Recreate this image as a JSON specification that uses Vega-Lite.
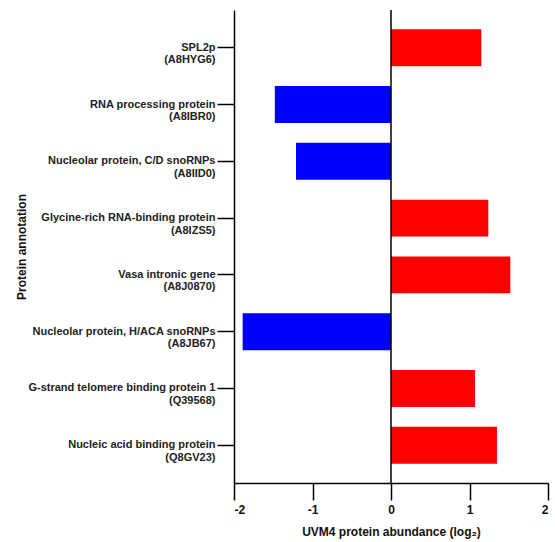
{
  "$schema": "https://vega.github.io/schema/vega-lite/v6.json",
  "autosize": {"type": "none"},
  "padding": {"left": 234, "top": 10, "right": 7, "bottom": 59},
  "width": 314,
  "height": 473,
  "background": "white",
  "config": {"view": {"stroke": null}, "font": "Liberation Sans"},
  "data": {"values": [
    {"protein": "SPL2p|(A8HYG6)", "value": 1.15, "dir": "up"},
    {"protein": "RNA processing protein|(A8IBR0)", "value": -1.48, "dir": "down"},
    {"protein": "Nucleolar protein, C/D snoRNPs|(A8IID0)", "value": -1.21, "dir": "down"},
    {"protein": "Glycine-rich RNA-binding protein|(A8IZS5)", "value": 1.24, "dir": "up"},
    {"protein": "Vasa intronic gene|(A8J0870)", "value": 1.52, "dir": "up"},
    {"protein": "Nucleolar protein, H/ACA snoRNPs|(A8JB67)", "value": -1.89, "dir": "down"},
    {"protein": "G-strand telomere binding protein 1|(Q39568)", "value": 1.07, "dir": "up"},
    {"protein": "Nucleic acid binding protein|(Q8GV23)", "value": 1.35, "dir": "up"}
  ]},
  "layer": [
    {
      "mark": {"type": "bar"},
      "encoding": {
        "y": {
          "field": "protein", "type": "nominal", "sort": null,
          "scale": {"paddingInner": 0.35, "paddingOuter": 0.34},
          "axis": {
            "title": "Protein annotation",
            "titleFont": "Liberation Sans", "titleFontSize": 12, "titleFontWeight": "bold", "titleColor": "#111",
            "titlePadding": 6,
            "labelExpr": "split(datum.label, '|')",
            "labelFont": "Liberation Sans", "labelFontSize": 11, "labelFontWeight": "bold", "labelColor": "#222",
            "labelLineHeight": 12.5, "labelPadding": 2, "labelLimit": 300,
            "tickSize": 17, "tickWidth": 1.5, "tickColor": "#000",
            "domainColor": "#000", "domainWidth": 1.5
          }
        },
        "x": {
          "field": "value", "type": "quantitative",
          "scale": {"domain": [-2, 2], "nice": false},
          "axis": {
            "title": "UVM4 protein abundance (log₂)",
            "titleFont": "Liberation Sans", "titleFontSize": 12, "titleFontWeight": "bold", "titleColor": "#111",
            "titlePadding": 11,
            "values": [-2, -1, 0, 1, 2], "grid": false,
            "labelExpr": "toString(datum.value)",
            "labelFont": "Liberation Sans", "labelFontSize": 12, "labelFontWeight": "bold", "labelColor": "#111",
            "labelPadding": 4,
            "tickSize": 17, "tickWidth": 1.5, "tickColor": "#000",
            "domainColor": "#000", "domainWidth": 1.5
          }
        },
        "color": {
          "field": "dir", "type": "nominal",
          "scale": {"domain": ["up", "down"], "range": ["#FF0000", "#0000FF"]},
          "legend": null
        }
      }
    },
    {
      "data": {"values": [{"x": 0}]},
      "mark": {"type": "rule", "color": "#000", "strokeWidth": 1.5},
      "encoding": {"x": {"field": "x", "type": "quantitative"}}
    }
  ]
}
